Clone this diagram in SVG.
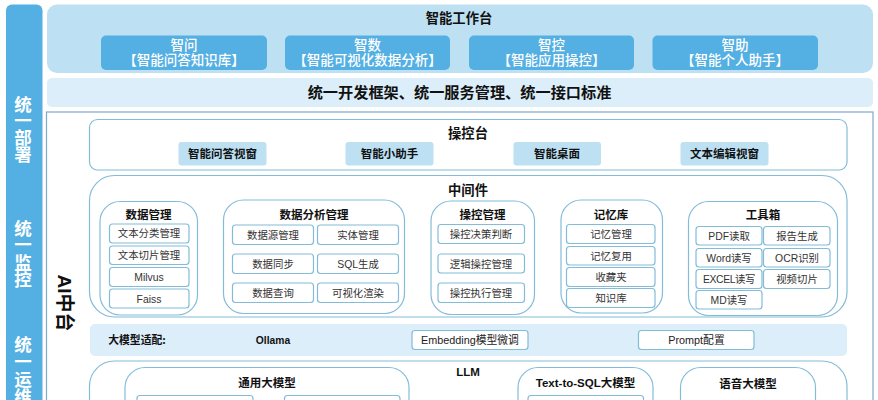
<svg xmlns="http://www.w3.org/2000/svg" width="878" height="400" viewBox="0 0 878 400">
<style>
text{font-family:"Noto Sans CJK SC","Liberation Sans",sans-serif;text-anchor:middle;fill:#222}
.lat{font-family:"Liberation Sans","Noto Sans CJK SC",sans-serif}
.b{font-weight:700;fill:#111}
.w{fill:#fff;font-weight:500;font-size:13.5px}
.side{fill:#fff;font-weight:700;font-size:17.500px}
.t13{font-size:13.300px}
.t12{font-size:11.500px}
.it{font-size:10.400px;fill:#333}
.ad{font-size:10.800px}
.item{fill:#fff;stroke:#82bcd9;stroke-width:1.200}
.grp{fill:#fff;stroke:#82bcd9;stroke-width:1.200}
.pale{fill:#bde0f3}
.band{fill:#dceef9}
.blue{fill:#54afe3}
</style>
<rect width="878" height="400" fill="#fff"/>
<g id="side">
<rect x="6" y="4.500" width="36.500" height="420" rx="6" class="blue"/>
<text class="side"><tspan x="23" y="111">统</tspan><tspan x="23" y="127">一</tspan><tspan x="23" y="144">部</tspan><tspan x="23" y="161">署</tspan></text>
<text class="side"><tspan x="23" y="235">统</tspan><tspan x="23" y="251">一</tspan><tspan x="23" y="269">监</tspan><tspan x="23" y="286">控</tspan></text>
<text class="side"><tspan x="23" y="351">统</tspan><tspan x="23" y="368">一</tspan><tspan x="23" y="386">运</tspan><tspan x="23" y="403">维</tspan></text>
</g>
<g id="workbench">
<rect x="47" y="4.500" width="826" height="68.500" rx="10" class="pale"/>
<text x="459" y="23" class="b t13">智能工作台</text>
<g id="w1"><rect x="101" y="35.500" width="166" height="34.500" rx="5" class="blue"/><text x="184" y="49.500" class="w">智问</text><text x="184" y="65" class="w">【智能问答知识库】</text></g>
<g id="w2"><rect x="285" y="35.500" width="165" height="34.500" rx="5" class="blue"/><text x="367.500" y="49.500" class="w">智数</text><text x="367.500" y="65" class="w">【智能可视化数据分析】</text></g>
<g id="w3"><rect x="469" y="35.500" width="165" height="34.500" rx="5" class="blue"/><text x="551.500" y="49.500" class="w">智控</text><text x="551.500" y="65" class="w">【智能应用操控】</text></g>
<g id="w4"><rect x="652.500" y="35.500" width="165.500" height="34.500" rx="5" class="blue"/><text x="735" y="49.500" class="w">智助</text><text x="735" y="65" class="w">【智能个人助手】</text></g>
</g>
<g id="framework"><rect x="47" y="78" width="826" height="29" rx="5" class="band"/><text x="459.500" y="97.500" class="b" font-size="15.200">统一开发框架、统一服务管理、统一接口标准</text></g>
<g id="platform">
<rect x="46.500" y="112" width="826.500" height="320" fill="#fff" stroke="#7fa8cf" stroke-width="1.200"/>
<text transform="translate(58,303) rotate(90)" class="b lat" font-size="19">AI中台</text>
</g>
<g id="console">
<rect x="89.500" y="119.500" width="757.500" height="50.500" rx="8" class="grp"/>
<text x="468" y="138" class="b t13">操控台</text>
<rect x="178.500" y="142" width="88" height="23.500" rx="3" class="pale"/><text x="222.500" y="158" class="b t12">智能问答视窗</text>
<rect x="345.500" y="142" width="88" height="23.500" rx="3" class="pale"/><text x="389.500" y="158" class="b t12">智能小助手</text>
<rect x="513.500" y="142" width="87.500" height="23.500" rx="3" class="pale"/><text x="557" y="158" class="b t12">智能桌面</text>
<rect x="680.500" y="142" width="88" height="23.500" rx="3" class="pale"/><text x="724.500" y="158" class="b t12">文本编辑视窗</text>
</g>
<g id="middleware">
<rect x="89.500" y="175.500" width="757.500" height="141.500" rx="25" class="grp"/>
<text x="468" y="195" class="b t13">中间件</text>
<g id="m1"><rect x="100" y="201.500" width="97.500" height="113.500" rx="20" class="grp"/><text x="148.500" y="219" class="b t12">数据管理</text>
<rect x="109.500" y="224" width="79.500" height="19" rx="3" class="item"/><text x="149" y="237" class="it">文本分类管理</text>
<rect x="109.500" y="246" width="79.500" height="18.500" rx="3" class="item"/><text x="149" y="259" class="it">文本切片管理</text>
<rect x="109.500" y="267.500" width="79.500" height="19" rx="3" class="item"/><text x="149" y="281" class="it lat">Milvus</text>
<rect x="109.500" y="289" width="79.500" height="19" rx="3" class="item"/><text x="149" y="302.500" class="it lat">Faiss</text></g>
<g id="m2"><rect x="223.500" y="200" width="181" height="113.500" rx="20" class="grp"/><text x="314" y="219" class="b t12">数据分析管理</text>
<rect x="232.500" y="225" width="81" height="19.500" rx="3" class="item"/><text x="273" y="238.500" class="it">数据源管理</text>
<rect x="317.500" y="225" width="81" height="19.500" rx="3" class="item"/><text x="358" y="238.500" class="it">实体管理</text>
<rect x="232.500" y="254" width="81" height="19.500" rx="3" class="item"/><text x="273" y="267.500" class="it">数据同步</text>
<rect x="317.500" y="254" width="81" height="19.500" rx="3" class="item"/><text x="358" y="267.500" class="it lat">SQL生成</text>
<rect x="232.500" y="283" width="81" height="19.500" rx="3" class="item"/><text x="273" y="296.500" class="it">数据查询</text>
<rect x="317.500" y="283" width="81" height="19.500" rx="3" class="item"/><text x="358" y="296.500" class="it">可视化渲染</text></g>
<g id="m3"><rect x="431" y="201" width="103.500" height="113.500" rx="20" class="grp"/><text x="482.500" y="219" class="b t12">操控管理</text>
<rect x="438" y="224.500" width="86.500" height="19" rx="3" class="item"/><text x="481" y="238" class="it">操控决策判断</text>
<rect x="438" y="254" width="86.500" height="19" rx="3" class="item"/><text x="481" y="267.500" class="it">逻辑操控管理</text>
<rect x="438" y="283" width="86.500" height="19.500" rx="3" class="item"/><text x="481" y="296.500" class="it">操控执行管理</text></g>
<g id="m4"><rect x="561" y="200" width="101.500" height="113" rx="20" class="grp"/><text x="611" y="219" class="b t12">记忆库</text>
<rect x="566.500" y="224.500" width="88.500" height="19" rx="3" class="item"/><text x="611" y="238" class="it">记忆管理</text>
<rect x="566.500" y="246.500" width="88.500" height="18.500" rx="3" class="item"/><text x="611" y="259.500" class="it">记忆复用</text>
<rect x="566.500" y="267.500" width="88.500" height="19" rx="3" class="item"/><text x="611" y="281" class="it">收藏夹</text>
<rect x="566.500" y="288.500" width="88.500" height="19" rx="3" class="item"/><text x="611" y="302" class="it">知识库</text></g>
<g id="m5"><rect x="688.500" y="201.500" width="149" height="114" rx="20" class="grp"/><text x="763" y="219" class="b t12">工具箱</text>
<rect x="696" y="226.500" width="66" height="18.500" rx="3" class="item"/><text x="729" y="240" class="it lat">PDF读取</text>
<rect x="763.500" y="226.500" width="66.500" height="18.500" rx="3" class="item"/><text x="797" y="240" class="it">报告生成</text>
<rect x="696" y="248.500" width="66" height="18.500" rx="3" class="item"/><text x="729" y="261.500" class="it lat">Word读写</text>
<rect x="763.500" y="248.500" width="66.500" height="18.500" rx="3" class="item"/><text x="797" y="261.500" class="it lat">OCR识别</text>
<rect x="696" y="269.500" width="66" height="19" rx="3" class="item"/><text x="729" y="283" class="it lat" letter-spacing="-0.400">EXCEL读写</text>
<rect x="763.500" y="269.500" width="66.500" height="19" rx="3" class="item"/><text x="797" y="283" class="it">视频切片</text>
<rect x="696" y="290.500" width="66" height="18.500" rx="3" class="item"/><text x="729" y="304" class="it lat">MD读写</text></g>
</g>
<g id="adapter">
<rect x="90" y="324" width="757" height="32" rx="5" class="band"/>
<text x="137" y="343.500" class="b ad">大模型适配:</text>
<text x="273" y="343.500" class="lat b" font-size="10.300">Ollama</text>
<rect x="412" y="330.500" width="116" height="19" rx="3" class="item"/><text x="470" y="343.500" class="lat ad">Embedding模型微调</text>
<rect x="638.500" y="330.500" width="115.500" height="19" rx="3" class="item"/><text x="696.500" y="343.500" class="lat ad">Prompt配置</text>
</g>
<g id="llm">
<rect x="89.500" y="361" width="757.500" height="90" rx="25" class="grp"/>
<text x="468" y="376" class="b lat t12">LLM</text>
<g id="l1"><rect x="125" y="367.500" width="284" height="80" rx="20" class="grp"/><text x="267" y="387" class="b t12">通用大模型</text>
<rect x="137" y="395.500" width="116" height="30" rx="3" class="item"/><rect x="284.500" y="395.500" width="115.500" height="30" rx="3" class="item"/></g>
<g id="l2"><rect x="518" y="367.500" width="135" height="80" rx="20" class="grp"/><text x="585.500" y="387" class="b lat t12">Text-to-SQL大模型</text>
<rect x="528" y="395.500" width="115.500" height="30" rx="3" class="item"/></g>
<g id="l3"><rect x="680.500" y="367.500" width="135" height="80" rx="20" class="grp"/><text x="748" y="388" class="b t12">语音大模型</text></g>
</g>
</svg>
